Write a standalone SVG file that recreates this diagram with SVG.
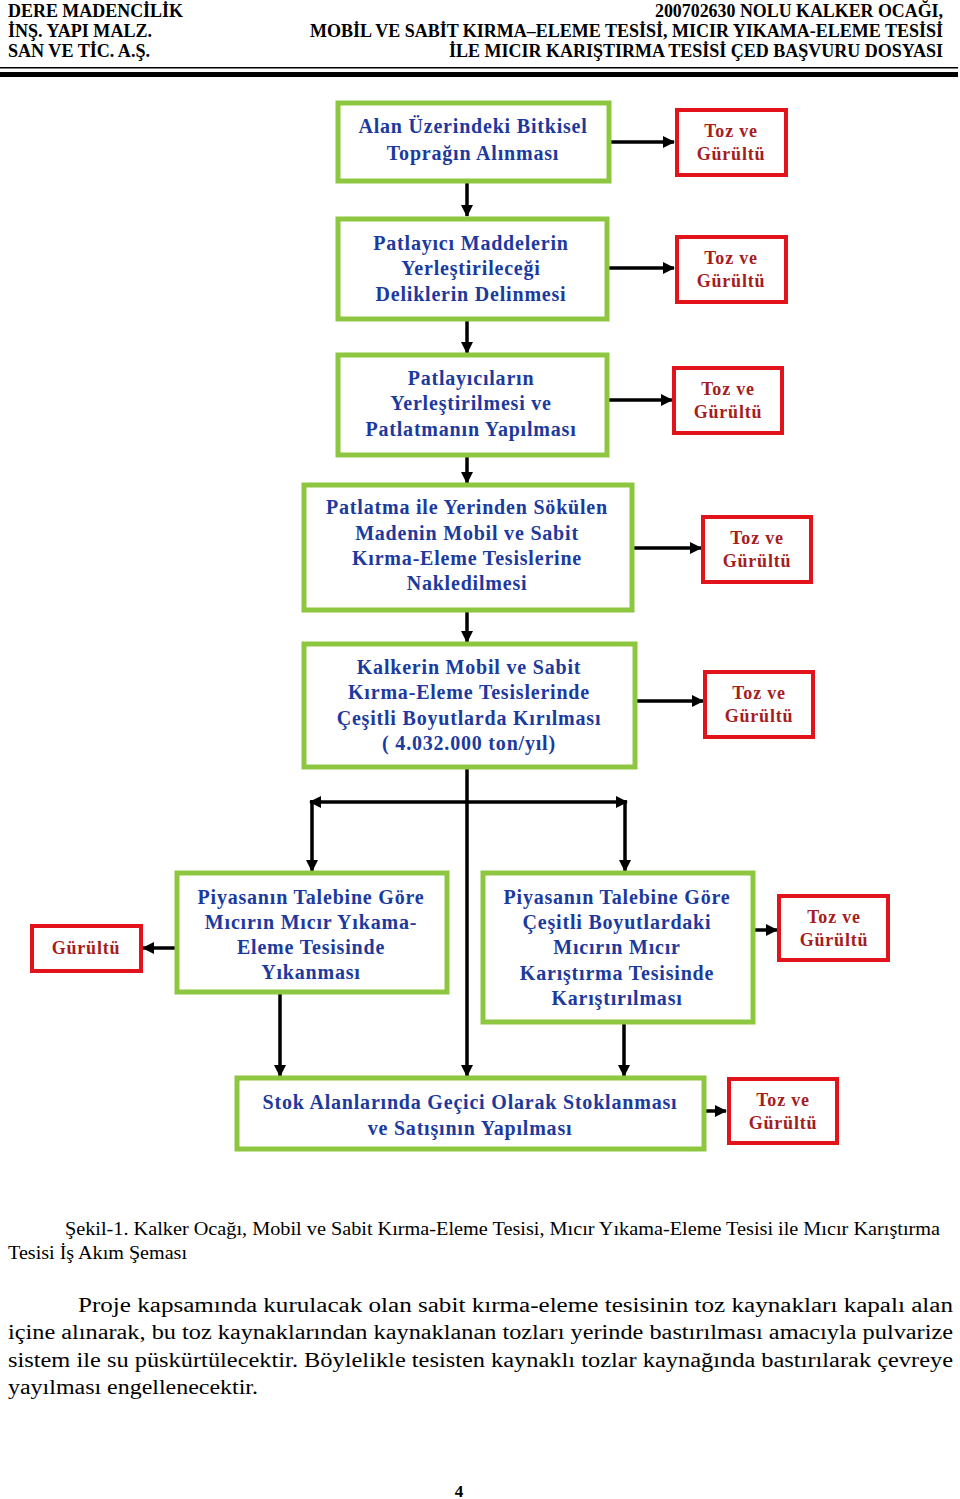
<svg xmlns="http://www.w3.org/2000/svg" width="960" height="1499" viewBox="0 0 960 1499">
<style>
.hd{font-family:"Liberation Serif","Times New Roman",serif;font-weight:bold;font-size:18px;fill:#000}
.gb{fill:#fff;stroke:#8dc63f;stroke-width:5}
.rb{fill:#fff;stroke:#e3131b;stroke-width:4}
.bt{font-family:"Liberation Serif","Times New Roman",serif;font-weight:bold;font-size:20px;letter-spacing:0.8px;fill:#1c3a9e;text-anchor:middle}
.rt{font-family:"Liberation Serif","Times New Roman",serif;font-weight:bold;font-size:18px;letter-spacing:0.8px;fill:#a51d1d;text-anchor:middle}
.cn{fill:none;stroke:#000;stroke-width:3.5}
.tx{font-family:"Liberation Serif","Times New Roman",serif;font-size:18px;fill:#000}
.pg{font-family:"Liberation Serif","Times New Roman",serif;font-size:20px;fill:#000}
</style>
<defs>
<marker id="ah" markerUnits="userSpaceOnUse" markerWidth="12" markerHeight="12" refX="11" refY="6" orient="auto">
<path d="M0,0 L12,6 L0,12 Z" fill="#000"/>
</marker>
</defs>
<rect width="960" height="1499" fill="#fff"/>
<g id="header">
<text class="hd" x="8" y="17" textLength="175" lengthAdjust="spacingAndGlyphs">DERE MADENCİLİK</text>
<text class="hd" x="8" y="37" textLength="144" lengthAdjust="spacingAndGlyphs">İNŞ. YAPI MALZ.</text>
<text class="hd" x="8" y="57" textLength="142" lengthAdjust="spacingAndGlyphs">SAN VE TİC. A.Ş.</text>
<text class="hd" x="655" y="17" textLength="288" lengthAdjust="spacingAndGlyphs">200702630 NOLU KALKER OCAĞI,</text>
<text class="hd" x="310" y="37" textLength="633" lengthAdjust="spacingAndGlyphs">MOBİL VE SABİT KIRMA–ELEME TESİSİ, MICIR YIKAMA-ELEME TESİSİ</text>
<text class="hd" x="449" y="57" textLength="494" lengthAdjust="spacingAndGlyphs">İLE MICIR KARIŞTIRMA TESİSİ ÇED BAŞVURU DOSYASI</text>
<rect x="0" y="67" width="958" height="1.5" fill="#000"/>
<rect x="0" y="72" width="958" height="5" fill="#000"/>
</g>
<g id="connectors">
<line class="cn" x1="467" y1="182" x2="467" y2="216" marker-end="url(#ah)"/>
<line class="cn" x1="467" y1="321" x2="467" y2="353" marker-end="url(#ah)"/>
<line class="cn" x1="467" y1="457" x2="467" y2="483" marker-end="url(#ah)"/>
<line class="cn" x1="467" y1="611" x2="467" y2="642" marker-end="url(#ah)"/>
<line class="cn" x1="611" y1="142" x2="674" y2="142" marker-end="url(#ah)"/>
<line class="cn" x1="609" y1="268" x2="674" y2="268" marker-end="url(#ah)"/>
<line class="cn" x1="609" y1="400" x2="672" y2="400" marker-end="url(#ah)"/>
<line class="cn" x1="633" y1="548" x2="701" y2="548" marker-end="url(#ah)"/>
<line class="cn" x1="636" y1="701" x2="703" y2="701" marker-end="url(#ah)"/>
<line class="cn" x1="467" y1="768" x2="467" y2="1076" marker-end="url(#ah)"/>
<line class="cn" x1="467" y1="802" x2="310" y2="802" marker-end="url(#ah)"/>
<line class="cn" x1="467" y1="802" x2="627" y2="802" marker-end="url(#ah)"/>
<line class="cn" x1="312" y1="800" x2="312" y2="871" marker-end="url(#ah)"/>
<line class="cn" x1="625" y1="800" x2="625" y2="871" marker-end="url(#ah)"/>
<line class="cn" x1="175" y1="948" x2="143" y2="948" marker-end="url(#ah)"/>
<line class="cn" x1="754" y1="930" x2="777" y2="930" marker-end="url(#ah)"/>
<line class="cn" x1="280" y1="993" x2="280" y2="1076" marker-end="url(#ah)"/>
<line class="cn" x1="624" y1="1023" x2="624" y2="1076" marker-end="url(#ah)"/>
<line class="cn" x1="705" y1="1111" x2="726" y2="1111" marker-end="url(#ah)"/>
</g>
<g id="n1">
<rect class="gb" x="338" y="103" width="271" height="78"/>
<text class="bt" x="473" y="133">Alan Üzerindeki Bitkisel</text>
<text class="bt" x="473" y="160">Toprağın Alınması</text>
</g>
<g id="r1">
<rect class="rb" x="677" y="110" width="109" height="65"/>
<text class="rt" x="731" y="137">Toz ve</text>
<text class="rt" x="731" y="160">Gürültü</text>
</g>
<g id="n2">
<rect class="gb" x="338" y="219" width="269" height="100"/>
<text class="bt" x="471" y="250">Patlayıcı Maddelerin</text>
<text class="bt" x="471" y="275">Yerleştirileceği</text>
<text class="bt" x="471" y="301">Deliklerin Delinmesi</text>
</g>
<g id="r2">
<rect class="rb" x="677" y="237" width="109" height="65"/>
<text class="rt" x="731" y="264">Toz ve</text>
<text class="rt" x="731" y="287">Gürültü</text>
</g>
<g id="n3">
<rect class="gb" x="338" y="355" width="269" height="100"/>
<text class="bt" x="471" y="385">Patlayıcıların</text>
<text class="bt" x="471" y="410">Yerleştirilmesi ve</text>
<text class="bt" x="471" y="436">Patlatmanın Yapılması</text>
</g>
<g id="r3">
<rect class="rb" x="674" y="368" width="108" height="65"/>
<text class="rt" x="728" y="395">Toz ve</text>
<text class="rt" x="728" y="418">Gürültü</text>
</g>
<g id="n4">
<rect class="gb" x="304" y="485" width="328" height="125"/>
<text class="bt" x="467" y="514">Patlatma ile Yerinden Sökülen</text>
<text class="bt" x="467" y="540">Madenin Mobil ve Sabit</text>
<text class="bt" x="467" y="565">Kırma-Eleme Tesislerine</text>
<text class="bt" x="467" y="590">Nakledilmesi</text>
</g>
<g id="r4">
<rect class="rb" x="703" y="517" width="108" height="65"/>
<text class="rt" x="757" y="544">Toz ve</text>
<text class="rt" x="757" y="567">Gürültü</text>
</g>
<g id="n5">
<rect class="gb" x="304" y="644" width="331" height="123"/>
<text class="bt" x="469" y="674">Kalkerin Mobil ve Sabit</text>
<text class="bt" x="469" y="699">Kırma-Eleme Tesislerinde</text>
<text class="bt" x="469" y="725">Çeşitli Boyutlarda Kırılması</text>
<text class="bt" x="469" y="750">( 4.032.000 ton/yıl)</text>
</g>
<g id="r5">
<rect class="rb" x="705" y="672" width="108" height="65"/>
<text class="rt" x="759" y="699">Toz ve</text>
<text class="rt" x="759" y="722">Gürültü</text>
</g>
<g id="n6">
<rect class="gb" x="177" y="873" width="270" height="119"/>
<text class="bt" x="311" y="904">Piyasanın Talebine Göre</text>
<text class="bt" x="311" y="929">Mıcırın Mıcır Yıkama-</text>
<text class="bt" x="311" y="954">Eleme Tesisinde</text>
<text class="bt" x="311" y="979">Yıkanması</text>
</g>
<g id="r6">
<rect class="rb" x="32" y="926" width="109" height="45"/>
<text class="rt" x="86" y="954">Gürültü</text>
</g>
<g id="n7">
<rect class="gb" x="483" y="873" width="270" height="149"/>
<text class="bt" x="617" y="904">Piyasanın Talebine Göre</text>
<text class="bt" x="617" y="929">Çeşitli Boyutlardaki</text>
<text class="bt" x="617" y="954">Mıcırın Mıcır</text>
<text class="bt" x="617" y="980">Karıştırma Tesisinde</text>
<text class="bt" x="617" y="1005">Karıştırılması</text>
</g>
<g id="r7">
<rect class="rb" x="779" y="896" width="109" height="64"/>
<text class="rt" x="834" y="923">Toz ve</text>
<text class="rt" x="834" y="946">Gürültü</text>
</g>
<g id="n8">
<rect class="gb" x="237" y="1078" width="467" height="71"/>
<text class="bt" x="470" y="1109">Stok Alanlarında Geçici Olarak Stoklanması</text>
<text class="bt" x="470" y="1135">ve Satışının Yapılması</text>
</g>
<g id="r8">
<rect class="rb" x="729" y="1079" width="108" height="64"/>
<text class="rt" x="783" y="1106">Toz ve</text>
<text class="rt" x="783" y="1129">Gürültü</text>
</g>
<g id="caption">
<text class="tx" x="65" y="1235" textLength="875" lengthAdjust="spacingAndGlyphs">Şekil-1. Kalker Ocağı, Mobil ve Sabit Kırma-Eleme Tesisi, Mıcır Yıkama-Eleme Tesisi ile Mıcır Karıştırma</text>
<text class="tx" x="8" y="1259" textLength="179" lengthAdjust="spacingAndGlyphs">Tesisi İş Akım Şeması</text>
</g>
<g id="paragraph">
<text class="pg" x="78" y="1312" textLength="875" lengthAdjust="spacingAndGlyphs">Proje kapsamında kurulacak olan sabit kırma-eleme tesisinin toz kaynakları kapalı alan</text>
<text class="pg" x="8" y="1339" textLength="945" lengthAdjust="spacingAndGlyphs">içine alınarak, bu toz kaynaklarından kaynaklanan tozları yerinde bastırılması amacıyla pulvarize</text>
<text class="pg" x="8" y="1367" textLength="945" lengthAdjust="spacingAndGlyphs">sistem ile su püskürtülecektir. Böylelikle tesisten kaynaklı tozlar kaynağında bastırılarak çevreye</text>
<text class="pg" x="8" y="1394" textLength="250" lengthAdjust="spacingAndGlyphs">yayılması engellenecektir.</text>
</g>
<text x="459" y="1497" font-family="Liberation Serif, serif" font-weight="bold" font-size="17" text-anchor="middle">4</text>
</svg>
